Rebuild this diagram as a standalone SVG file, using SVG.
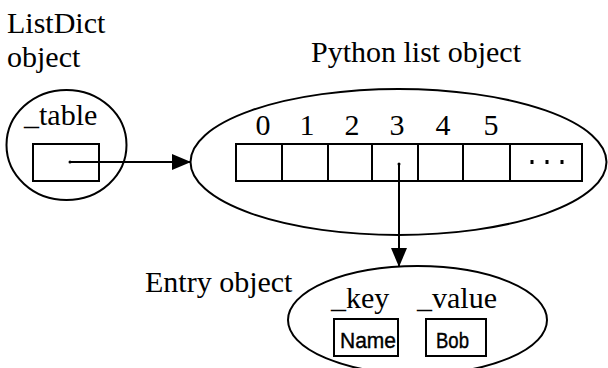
<svg xmlns="http://www.w3.org/2000/svg" width="608" height="368" viewBox="0 0 608 368">
<style>
.serif{font-family:"Liberation Serif","Times New Roman",serif;font-size:30px;fill:#000}
.sans{font-family:"Liberation Sans",Arial,sans-serif;font-size:22px;fill:#000;stroke:#000;stroke-width:0.4}
.shape{fill:none;stroke:#000;stroke-width:2}
.box{fill:#fff;stroke:#000;stroke-width:2}
.conn{fill:none;stroke:#000;stroke-width:2}
.mid{text-anchor:middle}
</style>
<defs>
<marker id="arrow" markerWidth="20" markerHeight="16" refX="19" refY="8" orient="auto" markerUnits="userSpaceOnUse">
<path d="M0,0 L19,8 L0,16 Z" fill="#000"/>
</marker>
</defs>
<rect width="608" height="368" fill="#fff"/>
<g id="listdict">
<text class="serif" x="7" y="33">ListDict</text>
<text class="serif" x="7" y="67">object</text>
<ellipse class="shape" cx="66.5" cy="145" rx="60" ry="55"/>
<text class="serif" x="24" y="125">_table</text>
<rect class="box" x="33" y="144" width="66" height="37"/>
</g>
<g id="pylist">
<text class="serif" x="311" y="62">Python list object</text>
<ellipse class="shape" cx="398.5" cy="162" rx="208" ry="73"/>
<text class="serif mid" x="263" y="135">0</text>
<text class="serif mid" x="307" y="135">1</text>
<text class="serif mid" x="352" y="135">2</text>
<text class="serif mid" x="397" y="135">3</text>
<text class="serif mid" x="443" y="135">4</text>
<text class="serif mid" x="491" y="135">5</text>
<rect class="box" x="236" y="144" width="346" height="37"/>
<path class="shape" d="M282,144V181M328,144V181M372,144V181M418,144V181M463,144V181M510,144V181"/>
<g fill="#000">
<rect x="530.5" y="160" width="3" height="4"/>
<rect x="545.5" y="160" width="3" height="4"/>
<rect x="560.5" y="160" width="3" height="4"/>
</g>
</g>
<g id="entry">
<text class="serif" x="145" y="292">Entry object</text>
<ellipse class="shape" cx="417.5" cy="320" rx="129.5" ry="54"/>
<text class="serif" x="331" y="308">_key</text>
<text class="serif" x="417" y="308">_value</text>
<rect class="box" x="334" y="319" width="64" height="37"/>
<text class="sans" x="340" y="348" textLength="56" lengthAdjust="spacingAndGlyphs">Name</text>
<rect class="box" x="426" y="319" width="60" height="37"/>
<text class="sans" x="436" y="348" textLength="33" lengthAdjust="spacingAndGlyphs">Bob</text>
</g>
<g id="connectors">
<circle cx="70" cy="162" r="1.5" fill="#000"/>
<line class="conn" x1="70" y1="162" x2="191" y2="162" marker-end="url(#arrow)"/>
<circle cx="399" cy="164" r="1.5" fill="#000"/>
<line class="conn" x1="399" y1="164" x2="399" y2="267" marker-end="url(#arrow)"/>
</g>
</svg>
